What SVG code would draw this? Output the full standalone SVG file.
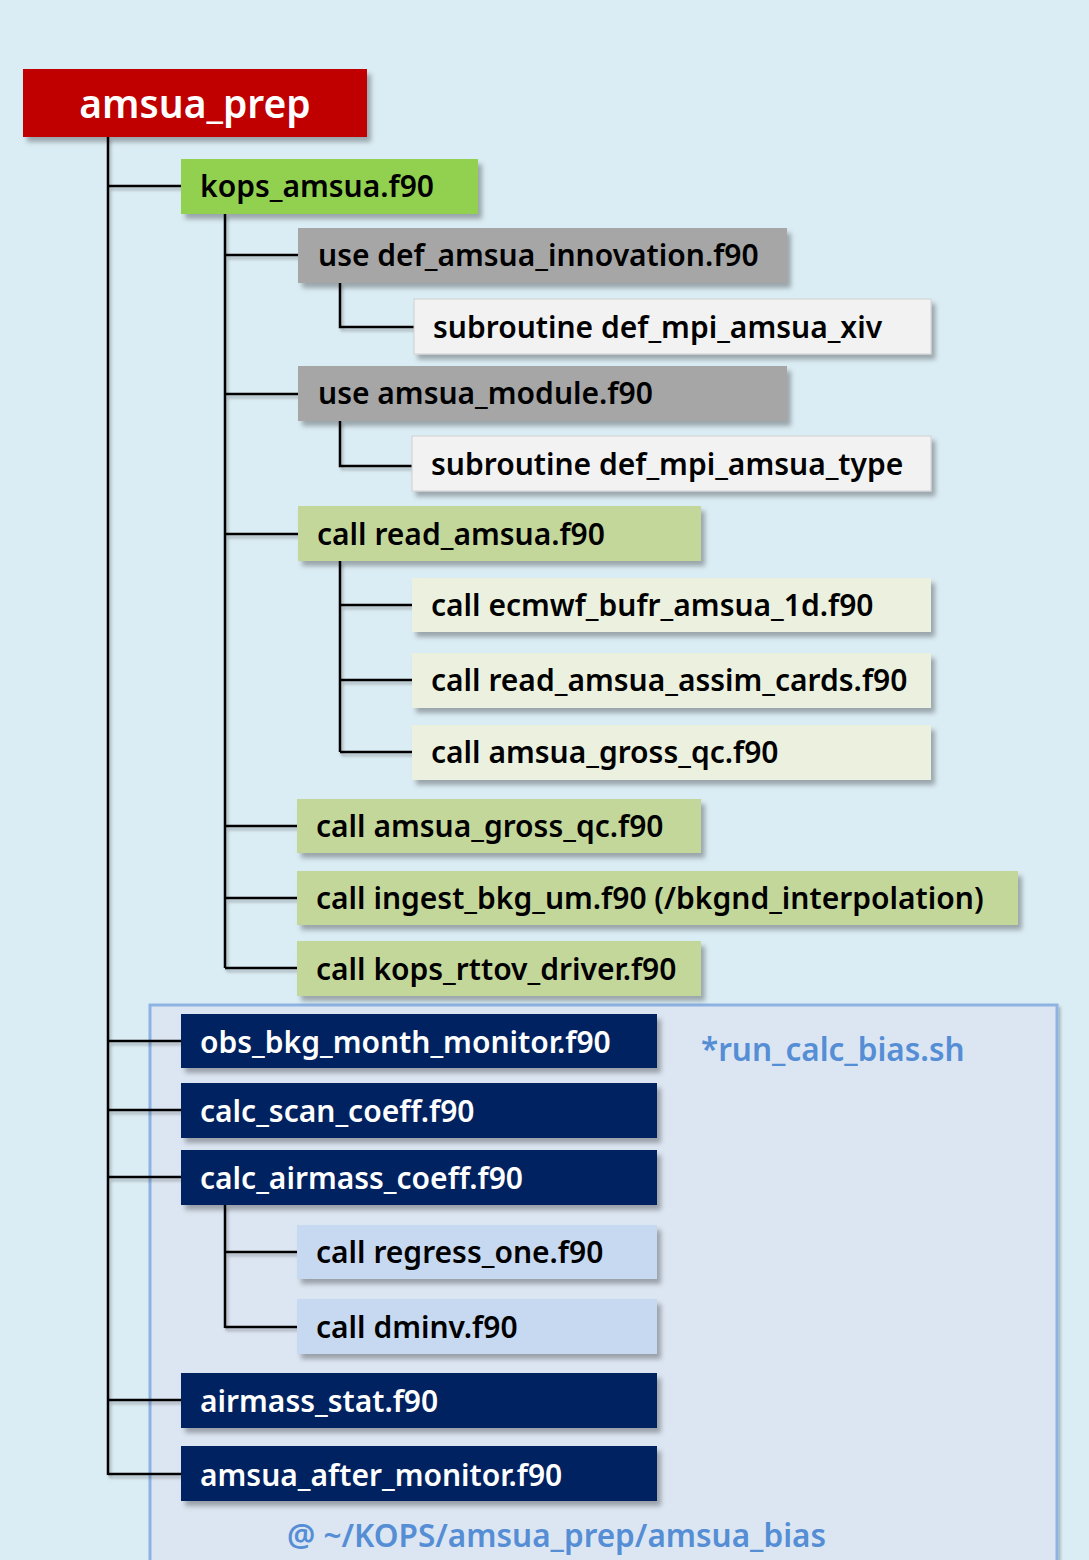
<svg xmlns="http://www.w3.org/2000/svg" width="1089" height="1560" viewBox="0 0 1089 1560">
<defs>
<filter id="sh" x="-5%" y="-20%" width="115%" height="160%">
<feDropShadow dx="4" dy="5" stdDeviation="2.5" flood-color="#000" flood-opacity="0.3"/>
</filter>
<filter id="lsh" x="-10%" y="-10%" width="130%" height="130%">
<feDropShadow dx="2" dy="3" stdDeviation="1.5" flood-color="#000" flood-opacity="0.25"/>
</filter>
</defs>
<style>
text{font-family:"Noto Sans","Open Sans","DejaVu Sans",sans-serif;font-size:30px;font-weight:600;}
.dk{fill:#000;}
.wt{fill:#fff;}
.title{font-size:39px;}
.root{fill:#c00000;}
.green{fill:#92d050;}
.gray{fill:#a6a6a6;}
.white{fill:#f2f2f2;stroke:#d0d0d0;stroke-width:1;}
.olive{fill:#c4d79b;}
.pale{fill:#ebf1de;}
.navy{fill:#002060;}
.lblue{fill:#c6d9f1;}
.note{fill:#558ed5;font-size:31.5px;}
.conn{stroke:#000;stroke-width:2.5;fill:none;}
</style>
<rect width="1089" height="1560" fill="#dbedf4"/>
<rect x="150" y="1005" width="907" height="570" fill="#dce6f2" stroke="#8db3e2" stroke-width="3" filter="url(#lsh)"/>
<g id="connectors" filter="url(#lsh)">
<path class="conn" d="M108,137V1475M108,186H181M108,1041H181M108,1110H181M108,1177H181M108,1400H181M108,1474H181"/>
<path class="conn" d="M225,214V968M225,255H298M225,394H298M225,534H298M225,826H297M225,898H297M225,968H297"/>
<path class="conn" d="M340,283V327H414M340,421V466H412M340,561V752M340,605H412M340,680H412M340,752H412"/>
<path class="conn" d="M225,1205V1328M225,1252H297M225,1327H297"/>
</g>
<g id="amsua_prep"><rect class="root" x="23" y="69" width="344" height="68" filter="url(#sh)"/><text class="wt title" x="195" y="118" text-anchor="middle">amsua_prep</text></g>
<g id="kops_amsua"><rect class="green" x="181" y="159" width="297" height="55" filter="url(#sh)"/><text class="dk" x="200" y="197">kops_amsua.f90</text></g>
<g id="use_innov"><rect class="gray" x="298" y="228" width="489" height="55" filter="url(#sh)"/><text class="dk" x="318" y="266">use def_amsua_innovation.f90</text></g>
<g id="sub_xiv"><rect class="white" x="414" y="299" width="517" height="55" filter="url(#sh)"/><text class="dk" x="433" y="338">subroutine def_mpi_amsua_xiv</text></g>
<g id="use_module"><rect class="gray" x="298" y="366" width="489" height="55" filter="url(#sh)"/><text class="dk" x="318" y="404">use amsua_module.f90</text></g>
<g id="sub_type"><rect class="white" x="412" y="436" width="519" height="55" filter="url(#sh)"/><text class="dk" x="431" y="475">subroutine def_mpi_amsua_type</text></g>
<g id="read_amsua"><rect class="olive" x="298" y="506" width="403" height="55" filter="url(#sh)"/><text class="dk" x="317" y="545">call read_amsua.f90</text></g>
<g id="ecmwf"><rect class="pale" x="412" y="578" width="519" height="54" filter="url(#sh)"/><text class="dk" x="431" y="616">call ecmwf_bufr_amsua_1d.f90</text></g>
<g id="assim_cards"><rect class="pale" x="412" y="653" width="519" height="55" filter="url(#sh)"/><text class="dk" x="431" y="691">call read_amsua_assim_cards.f90</text></g>
<g id="gross_qc_inner"><rect class="pale" x="412" y="725" width="519" height="55" filter="url(#sh)"/><text class="dk" x="431" y="763">call amsua_gross_qc.f90</text></g>
<g id="gross_qc"><rect class="olive" x="297" y="799" width="404" height="54" filter="url(#sh)"/><text class="dk" x="316" y="837">call amsua_gross_qc.f90</text></g>
<g id="ingest"><rect class="olive" x="297" y="871" width="721" height="54" filter="url(#sh)"/><text class="dk" x="316" y="909">call ingest_bkg_um.f90 (/bkgnd_interpolation)</text></g>
<g id="rttov"><rect class="olive" x="297" y="941" width="404" height="55" filter="url(#sh)"/><text class="dk" x="316" y="980">call kops_rttov_driver.f90</text></g>
<g id="obs_bkg"><rect class="navy" x="181" y="1014" width="476" height="54" filter="url(#sh)"/><text class="wt" x="200" y="1053">obs_bkg_month_monitor.f90</text></g>
<g id="calc_scan"><rect class="navy" x="181" y="1083" width="476" height="55" filter="url(#sh)"/><text class="wt" x="200" y="1122">calc_scan_coeff.f90</text></g>
<g id="calc_airmass"><rect class="navy" x="181" y="1150" width="476" height="55" filter="url(#sh)"/><text class="wt" x="200" y="1189">calc_airmass_coeff.f90</text></g>
<g id="regress"><rect class="lblue" x="297" y="1225" width="360" height="54" filter="url(#sh)"/><text class="dk" x="316" y="1263">call regress_one.f90</text></g>
<g id="dminv"><rect class="lblue" x="297" y="1299" width="360" height="55" filter="url(#sh)"/><text class="dk" x="316" y="1338">call dminv.f90</text></g>
<g id="airmass_stat"><rect class="navy" x="181" y="1373" width="476" height="55" filter="url(#sh)"/><text class="wt" x="200" y="1412">airmass_stat.f90</text></g>
<g id="after_monitor"><rect class="navy" x="181" y="1446" width="476" height="55" filter="url(#sh)"/><text class="wt" x="200" y="1486">amsua_after_monitor.f90</text></g>
<text class="note" x="701" y="1061">*run_calc_bias.sh</text>
<text class="note" x="287" y="1547">@ ~/KOPS/amsua_prep/amsua_bias</text>
</svg>
